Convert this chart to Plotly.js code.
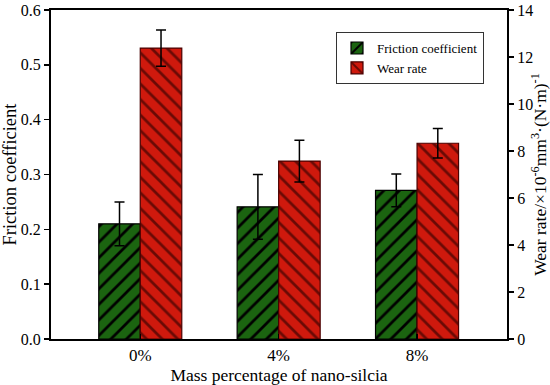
<!DOCTYPE html>
<html>
<head>
<meta charset="utf-8">
<script src="https://cdn.plot.ly/plotly-3.0.1.min.js"></script>
<style>html,body{margin:0;padding:0;background:#fff;font-family:"Liberation Serif",serif;}#chart{width:550px;height:385px;}</style>
</head>
<body>
<div id="chart"></div>
<script>
const categories = ["0%", "4%", "8%"];
const frictionCoeff = [0.21, 0.241, 0.271];
const frictionErr = [0.04, 0.059, 0.03];
const wearRate = [12.38, 7.57, 8.33];
const wearErr = [0.77, 0.89, 0.63];

const font = "Liberation Serif";

const traces = [
  {
    type: "bar", name: "Friction coefficient", x: categories, y: frictionCoeff,
    width: 0.3, offset: -0.3, yaxis: "y",
    marker: {color: "#1b6410", line: {color: "#000", width: 1.2},
      pattern: {shape: "/", fgcolor: "#000", bgcolor: "#1b6410", size: 11, solidity: 0.25}},
    error_y: {type: "data", array: frictionErr, visible: true, color: "#000", thickness: 1.5, width: 5}
  },
  {
    type: "bar", name: "Wear rate", x: categories, y: wearRate,
    width: 0.3, offset: 0, yaxis: "y2",
    marker: {color: "#cf190d", line: {color: "#4a0000", width: 1.2},
      pattern: {shape: "\\", fgcolor: "#6a0a05", bgcolor: "#cf190d", size: 11, solidity: 0.25}},
    error_y: {type: "data", array: wearErr, visible: true, color: "#000", thickness: 1.5, width: 5}
  }
];

const layout = {
  width: 550, height: 385,
  margin: {l: 51, r: 43, t: 10, b: 46},
  paper_bgcolor: "#fff", plot_bgcolor: "#fff",
  font: {family: font, color: "#000", size: 14},
  showlegend: true,
  legend: {x: 0.625, y: 0.933, xanchor: "left", yanchor: "top",
    bordercolor: "#333", borderwidth: 1, bgcolor: "#fff",
    font: {family: font, size: 13, color: "#000"}, tracegroupgap: 0},
  xaxis: {
    type: "category", range: [-0.645, 2.65],
    showline: true, linecolor: "#000", linewidth: 2, mirror: true,
    ticks: "inside", ticklen: 5, tickwidth: 1.5, tickcolor: "#000",
    tickfont: {family: font, size: 17},
    title: {text: "Mass percentage of nano-silcia", font: {family: font, size: 17.5}, standoff: 0},
    showgrid: false, zeroline: false
  },
  yaxis: {
    range: [0, 0.6], dtick: 0.1, tickformat: ".1f",
    showline: true, linecolor: "#000", linewidth: 2,
    ticks: "outside", ticklen: 5, tickwidth: 1.5, tickcolor: "#000",
    tickfont: {family: font, size: 16},
    title: {text: "Friction coefficient", font: {family: font, size: 18.5}, standoff: 0},
    showgrid: false, zeroline: false
  },
  yaxis2: {
    overlaying: "y", side: "right", range: [0, 14], dtick: 2,
    showline: true, linecolor: "#000", linewidth: 2,
    ticks: "outside", ticklen: 5, tickwidth: 1.5, tickcolor: "#000",
    tickfont: {family: font, size: 16},
    title: {text: "Wear rate/×10<sup>-6</sup>mm<sup>3</sup>·(N·m)<sup>-1</sup>", font: {family: font, size: 17.5}, standoff: 2},
    showgrid: false, zeroline: false
  },
  bargap: 0.4, bargroupgap: 0
};

Plotly.newPlot("chart", traces, layout, {displayModeBar: false, staticPlot: true});
</script>
</body>
</html>
